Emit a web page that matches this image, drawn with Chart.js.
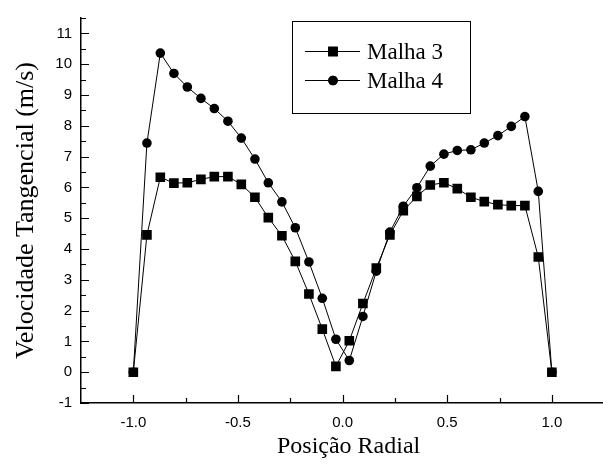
<!DOCTYPE html>
<html><head><meta charset="utf-8">
<script src="https://cdn.jsdelivr.net/npm/chart.js@4.4.0/dist/chart.umd.min.js"></script>
<style>html,body{margin:0;padding:0;overflow:hidden;background:#fff;width:603px;height:464px}</style>
</head><body>
<canvas id="c" width="611" height="464" style="display:block"></canvas>
<script>
const xPositions = [-1, -0.935, -0.871, -0.806, -0.742, -0.677, -0.613, -0.548, -0.484, -0.419, -0.355, -0.290, -0.226, -0.161, -0.097, -0.032, 0.032, 0.097, 0.161, 0.226, 0.290, 0.355, 0.419, 0.484, 0.548, 0.613, 0.677, 0.742, 0.806, 0.871, 0.935, 1];
const malha3 = [0, 4.46, 6.33, 6.14, 6.15, 6.26, 6.35, 6.35, 6.10, 5.68, 5.02, 4.43, 3.60, 2.54, 1.40, 0.19, 1.02, 2.23, 3.38, 4.46, 5.24, 5.71, 6.08, 6.15, 5.96, 5.68, 5.54, 5.44, 5.41, 5.41, 3.74, 0];
const malha4 = [0, 7.44, 10.36, 9.70, 9.26, 8.89, 8.56, 8.15, 7.60, 6.92, 6.15, 5.53, 4.69, 3.58, 2.40, 1.07, 0.38, 1.81, 3.28, 4.55, 5.39, 5.99, 6.69, 7.08, 7.20, 7.22, 7.44, 7.68, 7.98, 8.30, 5.87, 0];
const seriesNames = ['Malha 3', 'Malha 4'];
const xTickValues = [-1, -0.5, 0, 0.5, 1];
const xMinorTicks = [-0.75, -0.25, 0.25, 0.75];
const yTickValues = [-1, 0, 1, 2, 3, 4, 5, 6, 7, 8, 9, 10, 11];
const yMinorTicks = [-0.5, 0.5, 1.5, 2.5, 3.5, 4.5, 5.5, 6.5, 7.5, 8.5, 9.5, 10.5, 11.5];
const xTitle = 'Posição Radial';
const yTitle = 'Velocidade Tangencial (m/s)';

const innerTicks = {
  id: 'innerTicks',
  afterDraw(chart) {
    const {ctx, chartArea: a, scales: {x, y}} = chart;
    ctx.save();
    ctx.strokeStyle = '#000';
    ctx.lineWidth = 1.2;
    ctx.beginPath();
    const xt = (v, len) => { const p = Math.round(x.getPixelForValue(v)) + 0.5; ctx.moveTo(p, a.bottom); ctx.lineTo(p, a.bottom - len); };
    const yt = (v, len) => { const p = Math.round(y.getPixelForValue(v)) + 0.5; ctx.moveTo(a.left, p); ctx.lineTo(a.left + len, p); };
    xTickValues.forEach(v => xt(v, 8));
    xMinorTicks.forEach(v => xt(v, 5));
    yTickValues.forEach(v => yt(v, 8));
    yMinorTicks.forEach(v => yt(v, 5));
    ctx.stroke();
    // x axis title, drawn through the x scale position
    ctx.fillStyle = '#000';
    ctx.font = '24px "Liberation Serif"';
    ctx.textAlign = 'center';
    ctx.textBaseline = 'alphabetic';
    ctx.fillText(xTitle, x.getPixelForValue(0) + 6, 453);
    ctx.restore();
  }
};

const legendBox = {
  id: 'legendBox',
  afterDraw(chart) {
    const ctx = chart.ctx;
    ctx.save();
    ctx.strokeStyle = '#000';
    ctx.fillStyle = '#000';
    ctx.lineWidth = 1;
    ctx.strokeRect(292.5, 21.5, 178, 92);
    const rows = [51.5, 80.5];
    chart.data.datasets.forEach((ds, i) => {
      const yy = rows[i];
      ctx.beginPath();
      ctx.moveTo(305, yy); ctx.lineTo(360, yy);
      ctx.stroke();
      Chart.helpers.drawPoint(ctx, {pointStyle: ds.pointStyle, radius: ds.pointRadius, borderWidth: 0, rotation: 0}, 333, yy);
      ctx.fill();
      ctx.font = '23px "Liberation Serif"';
      ctx.textBaseline = 'alphabetic';
      ctx.textAlign = 'left';
      ctx.fillText(ds.label, 367, yy + 7);
    });
    ctx.restore();
  }
};

new Chart(document.getElementById('c'), {
  type: 'line',
  data: {
    datasets: [
      {label: seriesNames[0], data: xPositions.map((v, i) => ({x: v, y: malha3[i]})), borderColor: '#000', borderWidth: 1, pointStyle: 'rect', pointRadius: 6.8, pointBackgroundColor: '#000', pointBorderWidth: 0, tension: 0},
      {label: seriesNames[1], data: xPositions.map((v, i) => ({x: v, y: malha4[i]})), borderColor: '#000', borderWidth: 1, pointStyle: 'circle', pointRadius: 4.8, pointBackgroundColor: '#000', pointBorderWidth: 0, tension: 0}
    ]
  },
  options: {
    responsive: false,
    animation: false,
    events: [],
    layout: {padding: {top: 12, left: 0, right: 0, bottom: 0}},
    plugins: {legend: {display: false}, tooltip: {enabled: false}},
    scales: {
      x: {
        type: 'linear', min: -1.25, max: 1.25,
        afterBuildTicks(s) { s.ticks = xTickValues.map(v => ({value: v})); },
        afterFit(s) { s.height = 61; },
        grid: {drawOnChartArea: false, drawTicks: false},
        border: {display: true, color: '#000', width: 1.5},
        ticks: {padding: 11, color: '#000', font: {family: 'Liberation Sans', size: 15}, callback: v => Number(v).toFixed(1), maxRotation: 0, autoSkip: false},
        title: {display: false, text: xTitle}
      },
      y: {
        type: 'linear', min: -1, max: 11.5,
        afterBuildTicks(s) { s.ticks = yTickValues.map(v => ({value: v})); },
        afterFit(s) { s.width = 81; },
        grid: {drawOnChartArea: false, drawTicks: false},
        border: {display: true, color: '#000', width: 1.5},
        ticks: {padding: 9, color: '#000', font: {family: 'Liberation Sans', size: 15}, autoSkip: false},
        title: {display: true, text: yTitle, color: '#000', font: {family: 'Liberation Serif', size: 26}, padding: {top: 11, bottom: 0}}
      }
    }
  },
  plugins: [innerTicks, legendBox]
});
</script>
</body></html>
